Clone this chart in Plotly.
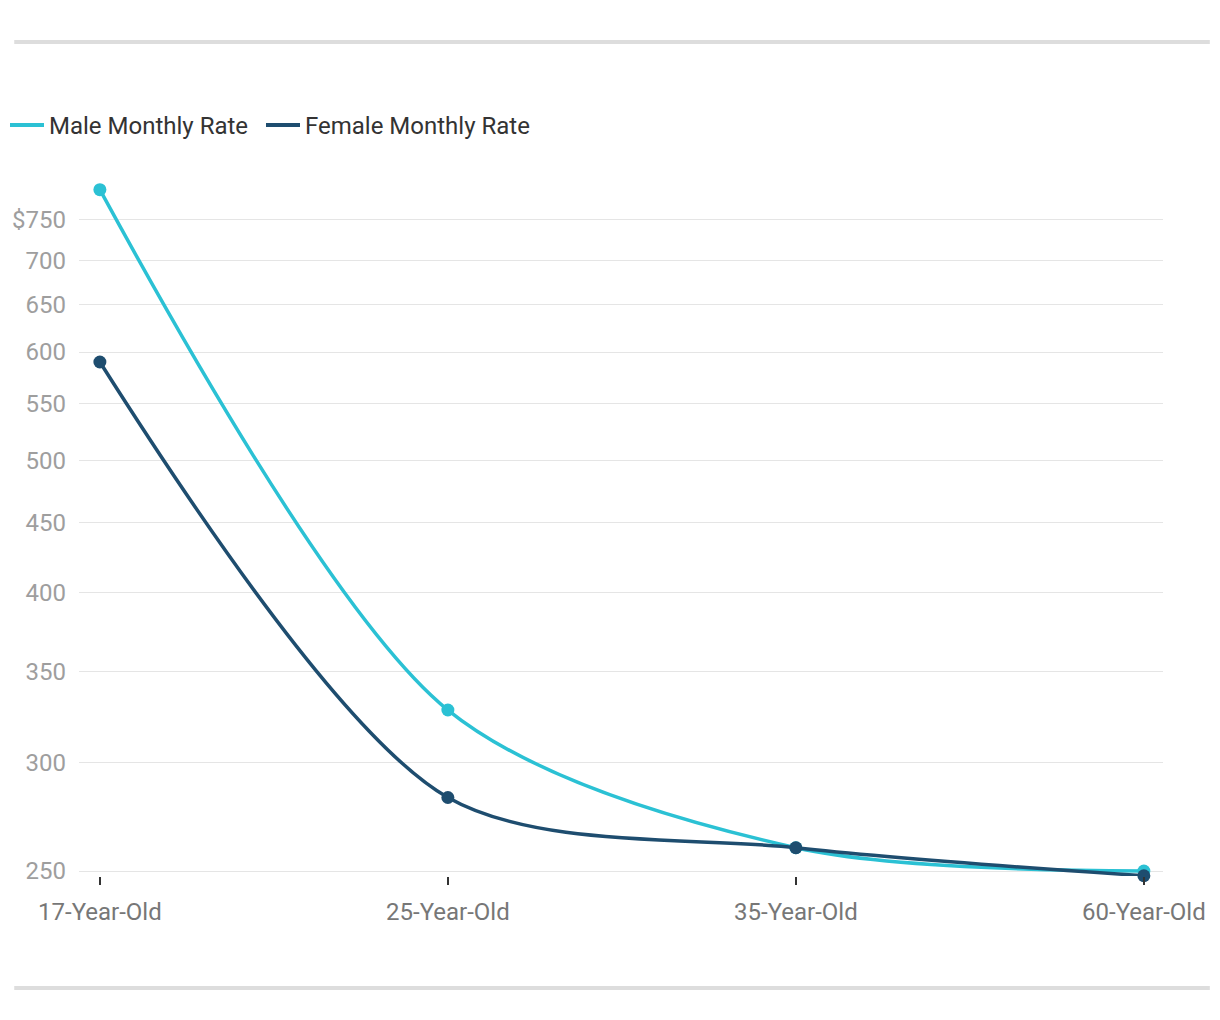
import plotly.graph_objects as go
import math

categories = ["17-Year-Old", "25-Year-Old", "35-Year-Old", "60-Year-Old"]
male_rate = [789, 328, 260, 250]
female_rate = [590, 283, 260, 248]
tick_vals = [250, 300, 350, 400, 450, 500, 550, 600, 650, 700, 750]
tick_text = ["250", "300", "350", "400", "450", "500", "550", "600", "650", "700", "$750"]

MALE_C = "#2bc1d4"
FEMALE_C = "#1e4d6f"

W, H = 1220, 1020
L, R, T, B = 75, 57, 180, 144
pw, ph = W - L - R, H - T - B

fig = go.Figure()
for name, vals, col in (("Male Monthly Rate", male_rate, MALE_C),
                        ("Female Monthly Rate", female_rate, FEMALE_C)):
    fig.add_trace(go.Scatter(
        x=categories, y=vals, name=name, showlegend=False,
        mode="lines+markers", line=dict(color=col, width=3.5, shape="spline", smoothing=0.85),
        marker=dict(size=13, color=col), cliponaxis=False))
for name, col, lg in (("Male Monthly Rate", MALE_C, "legend"),
                      ("Female Monthly Rate", FEMALE_C, "legend2")):
    fig.add_trace(go.Scatter(
        x=[None], y=[None], name=name, mode="lines", legend=lg,
        line=dict(color=col, width=4), showlegend=True))

def px_x(p):
    return (p - L) / pw

def px_y(p):
    return (H - B - p) / ph

shapes = []
for yy in (42, 988):
    shapes.append(dict(type="line", xref="paper", yref="paper",
                       x0=px_x(10), x1=px_x(1210), y0=px_y(yy), y1=px_y(yy),
                       line=dict(color="#dddddd", width=4)))

leg_common = dict(orientation="h", xref="container", yref="container",
                  y=1 - 103 / H, xanchor="left", yanchor="top",
                  font=dict(size=24, color="#333333"), itemwidth=34,
                  bgcolor="rgba(0,0,0,0)")

fig.update_layout(
    width=W, height=H,
    margin=dict(l=L, r=R, t=T, b=B),
    paper_bgcolor="white", plot_bgcolor="white",
    font=dict(family="Roboto", size=24, color="#333333"),
    showlegend=True,
    legend=dict(x=5 / W, **leg_common),
    legend2=dict(x=261 / W, **leg_common),
    shapes=shapes,
    xaxis=dict(type="category", range=[-0.06, 3.055], showgrid=False, zeroline=False,
               showline=False, ticks="outside", ticklen=8, tickwidth=2, tickcolor="#333333",
               ticklabelstandoff=6,
               tickfont=dict(size=24, color="#777777"), fixedrange=True),
    yaxis=dict(type="log", range=[math.log10(247.9), math.log10(802)],
               tickvals=tick_vals, ticktext=tick_text, showgrid=True,
               gridcolor="#e5e5e5", gridwidth=1, zeroline=False, showline=False,
               ticklabelstandoff=12,
               tickfont=dict(size=24, color="#9e9e9e"), fixedrange=True),
)

fig.write_html("out.html", config={"displayModeBar": False},
               post_script="document.body.style.margin='0px';document.body.style.overflow='hidden';")
